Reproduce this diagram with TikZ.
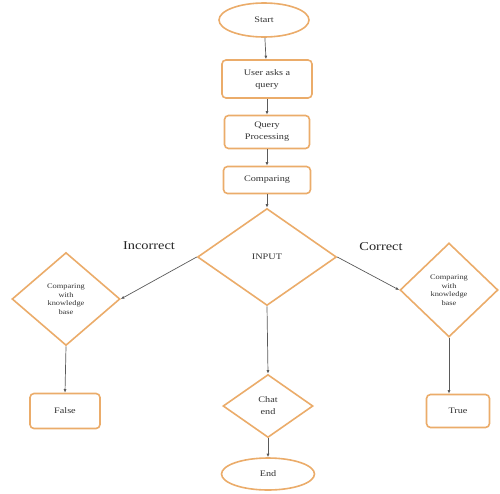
\documentclass[tikz,border=0pt]{standalone}
\usepackage{fontspec}
\setmainfont{Liberation Serif}[FakeStretch=1.2]
\usetikzlibrary{shapes.geometric,arrows.meta}
\definecolor{edge}{HTML}{EBAC6A}
\definecolor{wire}{HTML}{5A5A5A}
\begin{document}
\begin{tikzpicture}[x=1pt,y=-1pt,
  base/.style={draw=edge,line width=1.6pt,fill=white,inner sep=1pt,align=center,text=black!80},
  boxfont/.style={font=\fontsize{8.5}{12}\selectfont},
  smallfont/.style={font=\fontsize{7}{8.5}\selectfont},
  term/.style={base,boxfont,ellipse,minimum width=#1,minimum height=34pt},
  stepbox/.style={base,boxfont,rectangle,rounded corners=4pt},
  choice/.style={base,diamond,inner sep=0pt},
  flow/.style={draw=wire,line width=0.7pt,-{Latex[length=3.5pt,width=3pt]}},
  tag/.style={font=\fontsize{12}{14}\selectfont,text=black!85}]
\useasboundingbox (0,0) rectangle (500,493);
% main column
\node[term=90pt] (start) at (264,20) {Start};
\node[stepbox,minimum width=90pt,minimum height=38pt] (ask) at (267,79) {User asks a\\query};
\node[stepbox,minimum width=85pt,minimum height=33pt] (proc) at (267,132) {Query\\Processing};
\node[stepbox,minimum width=87pt,minimum height=27pt] (cmp) at (267,180) {Comparing};
\node[choice,boxfont,minimum width=139pt,minimum height=97pt] (input) at (267,257) {INPUT};
% branches
\node[choice,smallfont,minimum width=108pt,minimum height=93pt] (kbl) at (66,299) {Comparing\\with\\knowledge\\base};
\node[choice,smallfont,minimum width=98pt,minimum height=94pt] (kbr) at (449,290) {Comparing\\with\\knowledge\\base};
\node[stepbox,minimum width=70pt,minimum height=35pt] (false) at (65,411) {False};
\node[stepbox,minimum width=63pt,minimum height=33pt] (true) at (458,411) {True};
\node[choice,boxfont,minimum width=90pt,minimum height=63pt] (chat) at (268,406) {Chat\\end};
\node[term=93pt,minimum height=32pt] (end) at (268,474) {End};
\node[tag] (inc) at (149,246) {Incorrect};
\node[tag] (cor) at (381,247) {Correct};
% connectors
\draw[flow] (start) -- (ask);
\draw[flow] (ask) -- (proc);
\draw[flow] (proc) -- (cmp);
\draw[flow] (cmp) -- (input);
\draw[flow] (input.west) -- (kbl.east);
\draw[flow] (input.east) -- (kbr.west);
\draw[flow] (input.south) -- (chat.north);
\draw[flow] (chat.south) -- (end.north);
\draw[flow] (kbl.south) -- (false.north);
\draw[flow] (kbr.south) -- (true.north -| kbr.south);
\end{tikzpicture}
\end{document}
